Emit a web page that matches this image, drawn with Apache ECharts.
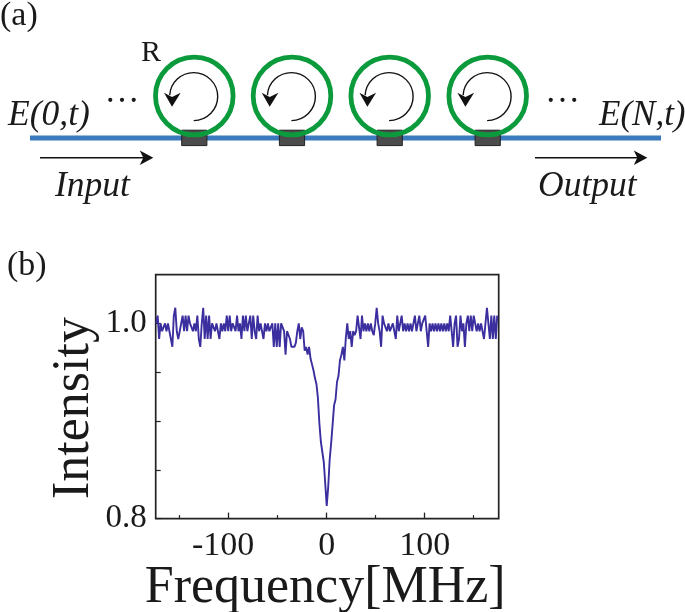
<!DOCTYPE html>
<html>
<head>
<meta charset="utf-8">
<style>html,body{margin:0;padding:0;background:#fff}#c{width:685px;height:612px}</style>
<script src="https://cdn.jsdelivr.net/npm/echarts@6/dist/echarts.min.js"></script>
</head>
<body>
<div id="c"></div>
<script>
const xName = 'Frequency[MHz]';
const yName = 'Intensity';
const xMajorTicks = [-100, 0, 100];
const xMinorTicks = [-150, -50, 50, 150];
const yLabelTicks = [0.8, 1.0];
const yTicks = [0.8, 0.85, 0.9, 0.95, 1.0];
const frequency = [
-174,-172.5,-171,-169.5,-168,-166.5,-165,-163.5,-162,-160.5,-159,-157.5,-156,-154.5,-153,-151.5,-150,-148.5,-147,-145.5,
-144,-142.5,-141,-139.5,-138,-136.5,-135,-133.5,-132,-130.5,-129,-127.5,-126,-124.5,-123,-121.5,-120,-118.5,-117,-115.5,
-114,-112.5,-111,-109.5,-108,-106.5,-105,-103.5,-102,-100.5,-99,-97.5,-96,-94.5,-93,-91.5,-90,-88.5,-87,-85.5,
-84,-82.5,-81,-79.5,-78,-76.5,-75,-73.5,-72,-70.5,-69,-67.5,-66,-64.5,-63,-61.5,-60,-58.5,-57,-55.5,
-54,-52.5,-51,-49.5,-48,-46.5,-45,-43.5,-42,-40.5,-39,-37.5,-36,-34.5,-33,-31.5,-30,-28.5,-27,-25.5,
-24,-22.5,-21,-19.5,-18,-16.5,-15,-13.5,-12,-10.5,-9,-7.5,-6,-4.5,-3,-1.5,0,1.5,3,4.5,
6,7.5,9,10.5,12,13.5,15,16.5,18,19.5,21,22.5,24,25.5,27,28.5,30,31.5,33,34.5,
36,37.5,39,40.5,42,43.5,45,46.5,48,49.5,51,52.5,54,55.5,57,58.5,60,61.5,63,64.5,
66,67.5,69,70.5,72,73.5,75,76.5,78,79.5,81,82.5,84,85.5,87,88.5,90,91.5,93,94.5,
96,97.5,99,100.5,102,103.5,105,106.5,108,109.5,111,112.5,114,115.5,117,118.5,120,121.5,123,124.5,
126,127.5,129,130.5,132,133.5,135,136.5,138,139.5,141,142.5,144,145.5,147,148.5,150,151.5,153,154.5,
156,157.5,159,160.5,162,163.5,165,166.5,168,169.5,171,172.5,174
];
const intensity = [
1.0,1.008,.984,1.0,.992,.992,1.0,.992,1.0,.992,.984,.976,1.008,1.016,.992,.984,.992,1.0,1.008,.992,
1.008,.992,1.008,1.0,1.0,.992,1.0,.992,1.008,.984,.976,1.0,1.016,.984,1.008,.984,1.008,.984,1.0,1.0,
.992,1.0,.992,.984,1.0,.992,1.0,.992,1.008,.992,1.008,.992,1.0,1.0,.992,1.008,.992,1.0,.984,1.008,
.992,1.008,.992,1.0,1.008,.984,1.008,.992,.984,1.008,.992,1.0,.992,.984,1.0,.992,1.0,.992,.992,1.0,
.976,1.0,.976,1.0,.976,1.0,1.0,.992,.968,.992,.992,.984,.976,.976,.976,.98,.992,1.0,.984,.996,
.992,.972,.976,.968,.976,.964,.958,.952,.944,.938,.924,.898,.879,.877,.858,.836,.813,.832,.86,.877,
.896,.916,.922,.94,.946,.962,.968,.976,.962,.985,1.0,.984,.992,.976,.992,.988,.992,1.008,.996,.984,
1.008,.992,1.0,.992,1.0,.992,1.0,.992,.988,1.0,1.016,1.0,.992,.976,1.008,1.0,1.0,.992,1.0,.992,
.992,1.0,.992,.984,1.008,.992,.992,1.008,.992,1.0,.992,1.0,.992,1.0,.992,1.0,1.008,.992,1.0,1.008,
.992,1.0,1.0,1.008,.992,.976,1.0,.992,1.0,.992,1.0,.992,1.0,.992,1.0,.992,1.0,.992,1.0,.992,
1.008,.992,.976,1.0,1.008,.976,.984,1.008,.992,1.0,.976,1.0,1.008,.992,1.008,.992,1.008,1.0,.992,1.0,
.992,1.0,.992,.984,1.0,1.016,1.0,.984,1.008,.984,1.008,.984,1.008
];
const series1 = frequency.map((f, i) => [f, intensity[i]]);

const serif = '"Liberation Serif","Times New Roman",serif';
const ink = '#1a1a1a';
const rings = [194.3, 292, 389.7, 487.7];
const gfx = [];
function txt(s, x, base, size, italic) {
  gfx.push({type:'text', z:10, style:{text:s, x, y:base-0.76*size, fill:ink, font:(italic?'italic ':'')+size+'px '+serif}});
}
function arrow(x0, x1, y) {
  gfx.push({type:'line', shape:{x1:x0,y1:y,x2:x1-8,y2:y}, style:{stroke:'#111',lineWidth:1.4}});
  gfx.push({type:'polygon', shape:{points:[[x1,y],[x1-13.5,y-7.2],[x1-10,y],[x1-13.5,y+7.2]]}, style:{fill:'#111'}});
}
gfx.push({type:'rect', z:1, shape:{x:30,y:135.6,width:631,height:5}, style:{fill:'#3a7abd'}});
rings.forEach(cx => {
  gfx.push({type:'rect', z:2, shape:{x:cx-12.6,y:130.2,width:25.2,height:15.4}, style:{fill:'#4b4b4b',stroke:'#222',lineWidth:1}});
  gfx.push({type:'circle', z:3, shape:{cx:cx,cy:96,r:38.8}, style:{fill:'none',stroke:'#0b9a3c',lineWidth:4.8}});
  gfx.push({type:'arc', z:3, shape:{cx:cx-.6,cy:96.6,r:24,startAngle:Math.PI/2,endAngle:-Math.PI*0.98,clockwise:false}, style:{fill:'none',stroke:'#111',lineWidth:1.4}});
  gfx.push({type:'polygon', z:4, shape:{points:[[cx-22.3,106.7],[cx-30.3,92.7],[cx-22.3,97],[cx-13.6,92.7]]}, style:{fill:'#111'}});
});
arrow(40, 153.3, 157.7);
arrow(535, 647.3, 157.7);
txt('(a)', 0, 25, 34);
txt('(b)', 7, 275, 34);
txt('R', 141, 61, 30);
txt('E(0,t)', 8, 125, 35.5, true);
txt('E(N,t)', 599, 125, 35, true);
txt('Input', 55, 196, 35.5, true);
txt('Output', 538, 196, 35.5, true);
txt('\u2026', 104.5, 102, 35);
txt('\u2026', 545, 102, 35);

const chart = echarts.init(document.getElementById('c'), null, {renderer:'canvas'});
const xBase = {type:'value', min:-174.5, max:175.5, splitLine:{show:false}, axisLine:{show:false, onZero:false}};
chart.setOption({
  animation:false,
  backgroundColor:'#fff',
  graphic:gfx,
  grid:{left:155.7, top:274.6, width:343, height:244, show:true, borderColor:'#222', borderWidth:1.7, backgroundColor:'transparent', outerBoundsMode:'none'},
  xAxis:[
    Object.assign({}, xBase, {
      name:xName, nameLocation:'middle', nameGap:44, nameMoveOverlap:false,
      nameTextStyle:{fontFamily:serif, fontSize:52, color:ink, padding:[0,4,0,0]},
      axisTick:{show:true, inside:true, length:6, lineStyle:{color:'#222',width:1.3}, customValues:xMajorTicks},
      axisLabel:{show:true, fontFamily:serif, fontSize:34, color:ink, margin:10, customValues:xMajorTicks,
        formatter:v=>v<0?'{n|'+v+'}':String(v),
        rich:{n:{fontFamily:serif, fontSize:34, color:ink, padding:[0,11,0,0]}}}
    }),
    Object.assign({}, xBase, {
      position:'bottom',
      axisTick:{show:true, inside:true, length:3.5, lineStyle:{color:'#222',width:1.2}, customValues:xMinorTicks},
      axisLabel:{show:false}
    })
  ],
  yAxis:{
    type:'value', min:0.8, max:1.05, splitLine:{show:false}, axisLine:{show:false, onZero:false},
    name:yName, nameLocation:'middle', nameGap:55, nameRotate:90, nameMoveOverlap:false,
    nameTextStyle:{fontFamily:serif, fontSize:52, color:ink, padding:[0,23,0,0]},
    axisTick:{show:true, inside:true, length:5, lineStyle:{color:'#222',width:1.2}, customValues:yTicks},
    axisLabel:{show:true, fontFamily:serif, fontSize:33, color:ink, margin:9, customValues:yLabelTicks, padding:[6,0,0,0],
      verticalAlign:'middle', verticalAlignMinLabel:'middle', verticalAlignMaxLabel:'middle', formatter:v=>v.toFixed(1)}
  },
  series:[{type:'line', data:series1, showSymbol:false, symbol:'none', lineStyle:{color:'#3b2e9e', width:1.9}, clip:true}]
});
</script>
</body>
</html>
